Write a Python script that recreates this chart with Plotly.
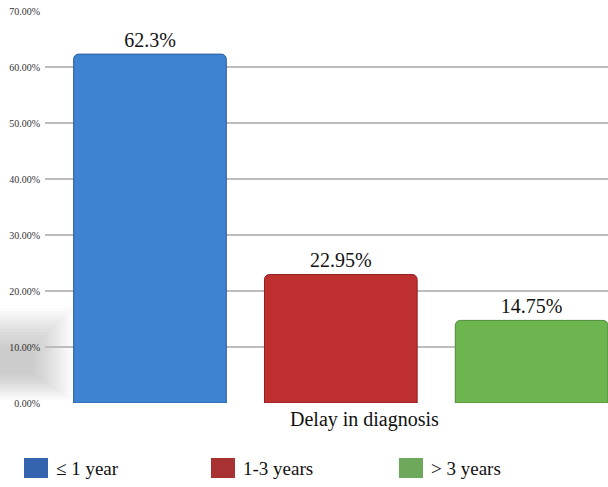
import plotly.graph_objects as go

# Delay in diagnosis: share of patients per delay group
groups = ["≤ 1 year", "1-3 years", "> 3 years"]
shares = [62.3, 22.95, 14.75]
bar_colors = ["#3D83D1", "#BE2F2F", "#6CB54F"]
edge_colors = ["#2A5F9E", "#8E2020", "#4E8A37"]
key_colors = ["#3464AE", "#A83232", "#6EA85A"]
tick_vals = [0, 10, 20, 30, 40, 50, 60, 70]
tick_text = [f"{v:.2f}%" for v in tick_vals]

serif = "Liberation Serif, DejaVu Serif, serif"

W, H = 608, 487
L, R, T, B = 45, 0, 11, 84
plot_w, plot_h = W - L - R, H - T - B


def px_x(px):
    return (px - L) / plot_w


def px_y(py):
    return (H - B - py) / plot_h


fig = go.Figure()
for i, (g, v) in enumerate(zip(groups, shares)):
    fig.add_trace(go.Bar(
        x=[i], y=[v], name=g,
        width=0.8,
        marker=dict(color=bar_colors[i], line=dict(color=edge_colors[i], width=1)),
        text=[f"{v}%"], textposition="outside",
        textfont=dict(family=serif, size=20, color="#111"),
        cliponaxis=False, showlegend=False,
    ))

shapes, annotations = [], []

# soft floor shadow at the lower left, built from many faint layered bands
n_bands = 14
for k in range(n_bands):
    shapes.append(dict(type="rect", xref="paper", yref="paper", layer="below",
                       x0=px_x(0), x1=px_x(72 - 3 * k),
                       y0=px_y(400 - 2 * k), y1=px_y(308 + 3 * k),
                       fillcolor="rgba(110,110,110,0.028)", line=dict(width=0)))

# legend key below the chart: coloured square + group name
key_left = [24, 211, 399]
for g, c, x0 in zip(groups, key_colors, key_left):
    shapes.append(dict(type="rect", xref="paper", yref="paper",
                       x0=px_x(x0), x1=px_x(x0 + 24), y0=px_y(478), y1=px_y(458),
                       fillcolor=c, line=dict(width=0)))
    annotations.append(dict(text=g, xref="paper", yref="paper",
                            x=px_x(x0 + 30), y=px_y(468), xanchor="left", yanchor="middle",
                            showarrow=False,
                            font=dict(family=serif, size=19, color="#111")))

annotations.append(dict(
    text="Delay in diagnosis", xref="paper", yref="paper",
    x=px_x(364), y=px_y(406), xanchor="center", yanchor="top", showarrow=False,
    font=dict(family=serif, size=20, color="#111"),
))

fig.update_layout(
    width=W, height=H,
    margin=dict(l=L, r=R, t=T, b=B),
    paper_bgcolor="white", plot_bgcolor="white",
    font=dict(family=serif, color="#111"),
    barcornerradius=5,
    showlegend=False,
    xaxis=dict(range=[-0.55, 2.4], showticklabels=False, showgrid=False,
               zeroline=False, showline=False),
    yaxis=dict(range=[0, 70], tickvals=tick_vals, ticktext=tick_text,
               showgrid=True, gridcolor="#BDBDBD", gridwidth=1.5,
               zeroline=False, showline=False,
               tickfont=dict(family=serif, size=10, color="#333"),
               ticks="", ticklabelstandoff=4),
    shapes=shapes,
    annotations=annotations,
)

fig.write_html("out.html")
